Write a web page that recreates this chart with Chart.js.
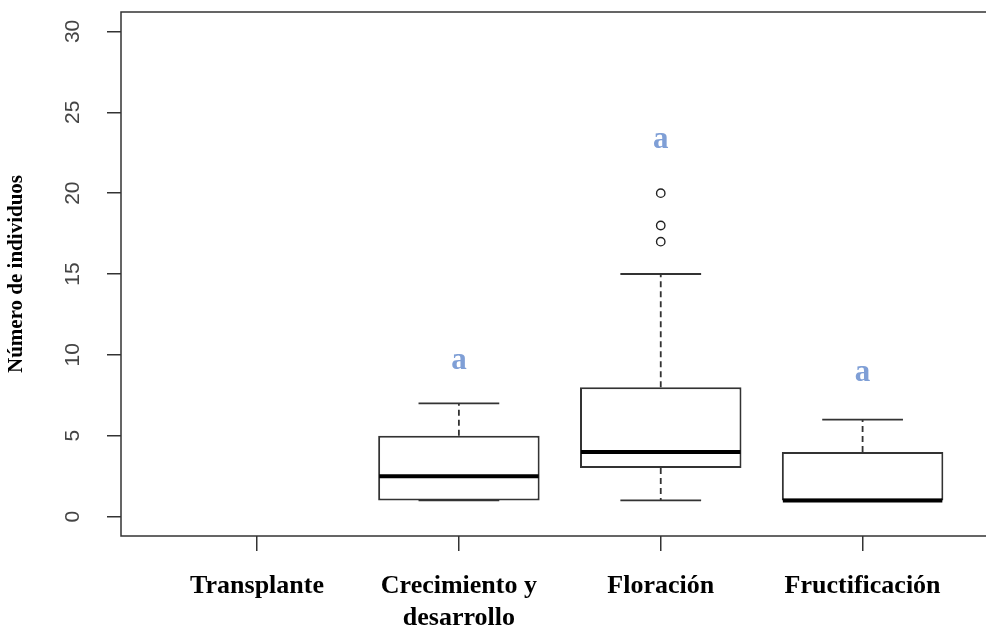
<!DOCTYPE html>
<html>
<head>
<meta charset="utf-8">
<script src="https://cdn.jsdelivr.net/npm/chart.js@4"></script>
<style>
  html, body { margin: 0; padding: 0; background: #ffffff; overflow: hidden; }
  #wrap { width: 986px; height: 632px; overflow: hidden; }
  canvas { display: block; }
</style>
</head>
<body>
<div id="wrap"><canvas id="c" width="1000" height="632"></canvas></div>
<script>
// ---- data ----
const categories = ['Transplante', ['Crecimiento y', 'desarrollo'], 'Floración', 'Fructificación'];
const whiskerLow  = [null, 1, 1, 1];
const q1          = [null, 1, 3, 1];
const median      = [null, 2.5, 4, 1];
const q3          = [null, 5, 8, 4];
const whiskerHigh = [null, 7, 15, 6];
const outliers    = [[], [], [17, 18, 20], []];
const letters     = [null, 'a', 'a', 'a'];
const letterY     = [null, 9.6, 23.3, 8.9];
const yTicks      = [0, 5, 10, 15, 20, 25, 30];
const yTitle      = 'Número de individuos';

const boxData = categories.map((c, i) => ({ x: i + 1, y: q1[i] == null ? null : [q1[i], q3[i]] }));
const outlierData = [];
outliers.forEach((arr, i) => arr.forEach(v => outlierData.push({ x: i + 1, y: v })));

const LINE = '#333333';

const extras = {
  id: 'extras',
  afterDatasetsDraw(chart) {
    const { ctx, scales: { x, y } } = chart;
    const meta = chart.getDatasetMeta(0);
    ctx.save();
    categories.forEach((c, i) => {
      if (median[i] == null) return;
      const px = x.getPixelForValue(i + 1);
      const w = meta.data[i].width;
      // whiskers (dashed)
      ctx.strokeStyle = LINE;
      ctx.lineWidth = 1.8;
      ctx.setLineDash([6, 4]);
      ctx.beginPath();
      if (whiskerHigh[i] > q3[i]) {
        ctx.moveTo(px, y.getPixelForValue(q3[i]));
        ctx.lineTo(px, y.getPixelForValue(whiskerHigh[i]));
      }
      if (whiskerLow[i] < q1[i]) {
        ctx.moveTo(px, y.getPixelForValue(q1[i]));
        ctx.lineTo(px, y.getPixelForValue(whiskerLow[i]));
      }
      ctx.stroke();
      // caps
      ctx.setLineDash([]);
      ctx.beginPath();
      [whiskerHigh[i], whiskerLow[i]].forEach(v => {
        const py = y.getPixelForValue(v);
        ctx.moveTo(px - w / 4, py);
        ctx.lineTo(px + w / 4, py);
      });
      ctx.stroke();
      // median
      ctx.strokeStyle = '#000000';
      ctx.lineWidth = 4;
      ctx.beginPath();
      const pm = y.getPixelForValue(median[i]);
      ctx.moveTo(px - w / 2 + 1, pm);
      ctx.lineTo(px + w / 2 - 1, pm);
      ctx.stroke();
    });
    ctx.restore();
  },
  afterDraw(chart) {
    const { ctx, chartArea: a, scales: { x, y } } = chart;
    ctx.save();
    // frame
    ctx.strokeStyle = LINE;
    ctx.lineWidth = 1.5;
    ctx.strokeRect(a.left, a.top, a.right - a.left, a.bottom - a.top);
    // rotated y tick labels
    ctx.fillStyle = '#444444';
    ctx.font = '21px "Liberation Sans", Arial, sans-serif';
    ctx.textAlign = 'center';
    ctx.textBaseline = 'middle';
    y.ticks.forEach(t => {
      ctx.save();
      ctx.translate(73, y.getPixelForValue(t.value));
      ctx.rotate(-Math.PI / 2);
      ctx.fillText(String(t.value), 0, 0);
      ctx.restore();
    });
    // letters
    ctx.fillStyle = '#7f9fd6';
    ctx.font = 'bold 31px "Liberation Serif", "Times New Roman", serif';
    letters.forEach((l, i) => {
      if (!l) return;
      ctx.fillText(l, x.getPixelForValue(i + 1), y.getPixelForValue(letterY[i]));
    });
    ctx.restore();
  }
};

new Chart(document.getElementById('c'), {
  data: {
    datasets: [
      {
        type: 'bar',
        data: boxData,
        backgroundColor: '#ffffff',
        borderColor: LINE,
        borderWidth: 2,
        borderSkipped: false,
        barPercentage: 0.8,
        categoryPercentage: 1.0
      },
      {
        type: 'scatter',
        data: outlierData,
        pointStyle: 'circle',
        pointRadius: 4.2,
        pointBackgroundColor: '#ffffff',
        pointBorderColor: '#222222',
        pointBorderWidth: 1.4,
        showLine: false
      }
    ]
  },
  options: {
    responsive: false,
    animation: false,
    devicePixelRatio: 1,
    layout: { padding: { top: 12, right: 2, left: 0, bottom: 0 } },
    plugins: { legend: { display: false }, tooltip: { enabled: false } },
    scales: {
      x: {
        type: 'linear',
        offset: false,
        min: 0.326,
        max: 4.653,
        afterBuildTicks: s => { s.ticks = categories.map((c, i) => ({ value: i + 1 })); },
        afterFit: s => { s.height = 96; },
        ticks: {
          autoSkip: false,
          maxRotation: 0,
          minRotation: 0,
          padding: 19,
          color: '#000000',
          font: { family: '"Liberation Serif", "Times New Roman", serif', size: 26, weight: 'bold', lineHeight: 1.24 },
          callback: v => categories[Math.round(v) - 1]
        },
        grid: { display: true, offset: false, drawOnChartArea: false, drawTicks: true, tickLength: 15, color: LINE, lineWidth: 1.5 },
        border: { display: false }
      },
      y: {
        type: 'linear',
        min: -1.2,
        max: 31.2,
        afterBuildTicks: s => { s.ticks = yTicks.map(v => ({ value: v })); },
        afterFit: s => { s.width = 121; },
        ticks: { display: false },
        grid: { display: true, drawOnChartArea: false, drawTicks: true, tickLength: 14, color: LINE, lineWidth: 1.5 },
        border: { display: false },
        title: {
          display: true,
          text: yTitle,
          color: '#000000',
          font: { family: '"Liberation Serif", "Times New Roman", serif', size: 21, weight: 'bold' },
          padding: { top: 4, bottom: 0 }
        }
      }
    }
  },
  plugins: [extras]
});
</script>
</body>
</html>
